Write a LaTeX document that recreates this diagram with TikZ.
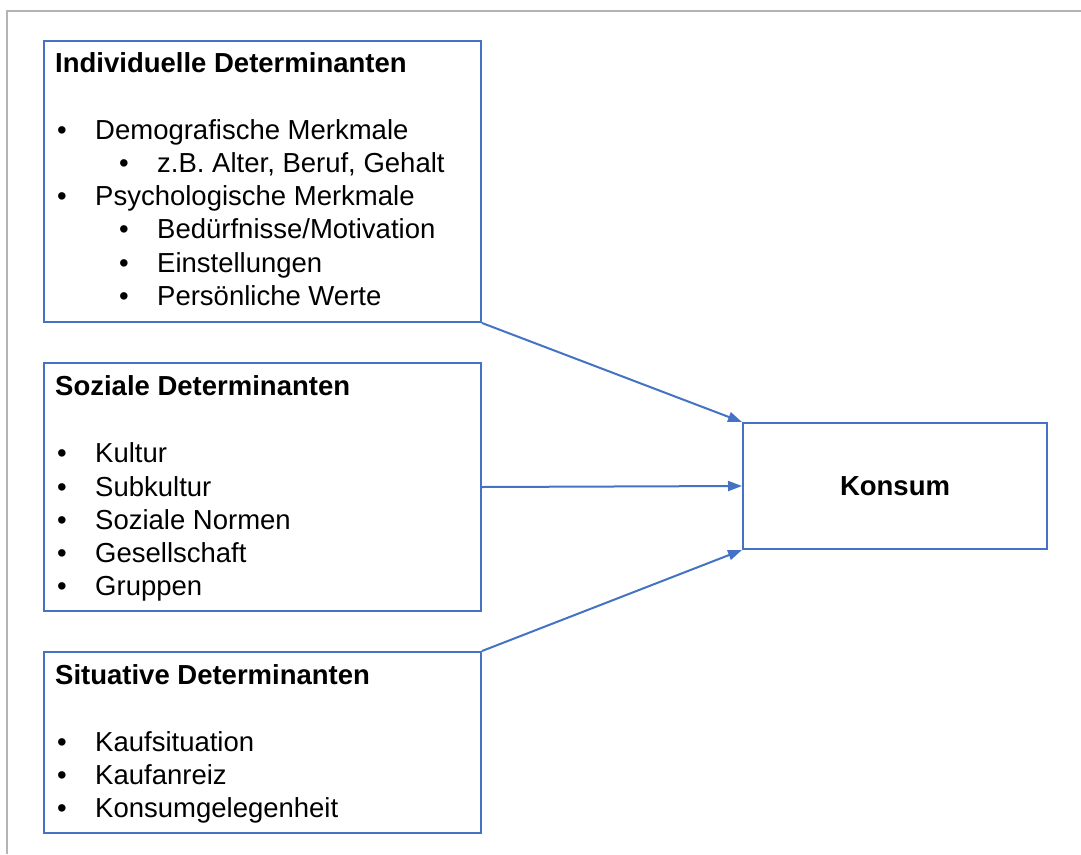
\documentclass[tikz,border=0pt]{standalone}
\usepackage{fontspec}
\setmainfont{Liberation Sans}
\usetikzlibrary{arrows.meta}

\definecolor{boxblue}{RGB}{68,114,196}
\definecolor{framegray}{RGB}{180,180,180}

\tikzset{
    detbox/.style={draw=boxblue, line width=2pt, minimum width=437pt, anchor=north west, inner sep=0pt},
    txt/.style={anchor=base west, inner sep=0pt, font=\fontsize{27.5}{33}\selectfont},
    head/.style={txt, font=\fontsize{27.5}{33}\selectfont\bfseries},
    dot/.style={anchor=base, inner sep=0pt, font=\fontsize{27.5}{33}\selectfont},
    link/.style={draw=boxblue, line width=2pt},
    >={Triangle[length=14pt, width=10pt]}
}

\begin{document}
\begin{tikzpicture}[x=1pt, y=-1pt]
    % page size, pixels of the screenshot
    \useasboundingbox (0,0) rectangle (1081,854);
    \draw [framegray, line width=2pt] (7,854) -- (7,11) -- (1081,11);

    % the three boxes on the left
    \node [detbox, minimum height=281pt] (indiv) at (43,40) {};
    \node [detbox, minimum height=248pt] (sozial) at (43,362) {};
    \node [detbox, minimum height=181pt] (situ) at (43,651) {};

    % konsum on the right
    \node [draw=boxblue, line width=2pt, minimum width=304pt, minimum height=126pt,
           inner sep=0pt, font=\fontsize{27.5}{33}\selectfont\bfseries] (konsum)
           at (895,486) {Konsum};

    % headings
    \node [head] (indiv-head) at (55,72) {Individuelle Determinanten};
    \node [head] (sozial-head) at (55,395) {Soziale Determinanten};
    \node [head] (situ-head) at (55,684) {Situative Determinanten};

    % bullet lists, level / baseline / text
    \foreach \lvl/\y/\txt [count=\i] in {1/139/Demografische Merkmale,
            2/172/{z.B. Alter, Beruf, Gehalt}, 1/205/Psychologische Merkmale,
            2/238/Bedürfnisse\slash Motivation, 2/272/Einstellungen,
            2/305/Persönliche Werte} {
        \pgfmathsetmacro{\bx}{62+62*(\lvl-1)}
        \node [dot] (indiv-dot-\i) at (\bx,\y) {•};
        \node [txt] (indiv-item-\i) at (\bx+33,\y) {\txt};
    }
    \foreach \y/\txt [count=\i] in {462/Kultur, 496/Subkultur, 529/Soziale Normen,
            562/Gesellschaft, 595/Gruppen} {
        \node [dot] (sozial-dot-\i) at (62,\y) {•};
        \node [txt] (sozial-item-\i) at (95,\y) {\txt};
    }
    \foreach \y/\txt [count=\i] in {751/Kaufsituation, 784/Kaufanreiz,
            817/Konsumgelegenheit} {
        \node [dot] (situ-dot-\i) at (62,\y) {•};
        \node [txt] (situ-item-\i) at (95,\y) {\txt};
    }

    % arrows into konsum
    \draw [link, ->] (indiv.south east) -- (konsum.north west);
    \draw [link, ->] (sozial.east) -- (konsum.west);
    \draw [link, ->] (situ.north east) -- (konsum.south west);
\end{tikzpicture}
\end{document}
